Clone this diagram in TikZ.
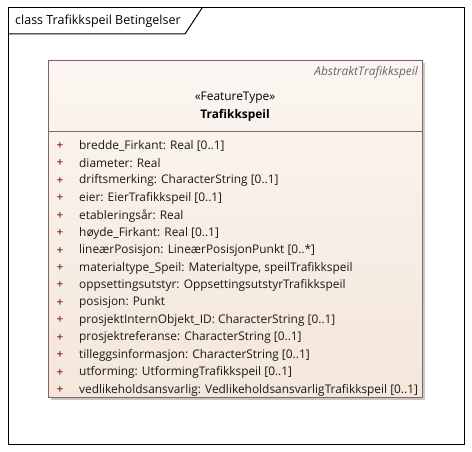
\documentclass[tikz,border=0pt]{standalone}
\usepackage{fontspec}
\setmainfont{Open Sans}
\begin{document}
\begin{tikzpicture}[x=1pt,y=-1pt,
  attr/.style={anchor=west,inner sep=0pt,font=\fontsize{11.9}{13}\selectfont,text=black!90},
  plus/.style={anchor=center,inner sep=0pt,font=\fontsize{11.9}{13}\selectfont,text=red!45!black}]
\definecolor{boxfill}{RGB}{249,240,233}
\definecolor{boxline}{RGB}{130,100,100}
\useasboundingbox (0,0) rectangle (472,452);
\fill[white] (0,0) rectangle (472,452);
% frame
\draw[line width=1pt] (8,8) rectangle (464,444);
\draw[line width=1pt] (8,34) -- (185,34) -- (202,8);
\node[anchor=west,inner sep=0pt,font=\fontsize{12.5}{14}\selectfont] (title) at (15,21) {class Trafikkspeil Betingelser};
% class box
\fill[black!22] (51,63) rectangle (425,400);
\shade[top color=boxfill!60!white,bottom color=boxfill!90!brown!95] (48,60) rectangle (422,397);
\draw[boxline,line width=0.8pt] (48,60) rectangle (422,397);
\node (cls) at (235,228) {};
\draw[boxline,line width=0.8pt] (48,131) -- (422,131);
\node[anchor=east,inner sep=0pt,font=\fontsize{11.9}{13}\selectfont\itshape,text=black!60] (abs) at (418,72) {AbstraktTrafikkspeil};
\node[inner sep=0pt,font=\fontsize{11.9}{13}\selectfont] (st) at (235,98) {«FeatureType»};
\node[inner sep=0pt,font=\fontsize{11.9}{13}\selectfont\bfseries] (nm) at (235,115) {Trafikkspeil};
\foreach \i/\t in {0/{bredde\_Firkant: Real [0..1]},
1/{diameter: Real},
2/{driftsmerking: CharacterString [0..1]},
3/{eier: EierTrafikkspeil [0..1]},
4/{etableringsår: Real},
5/{høyde\_Firkant: Real [0..1]},
6/{lineærPosisjon: LineærPosisjonPunkt [0..*]},
7/{materialtype\_Speil: Materialtype, speilTrafikkspeil},
8/{oppsettingsutstyr: OppsettingsutstyrTrafikkspeil},
9/{posisjon: Punkt},
10/{prosjektInternObjekt\_ID: CharacterString [0..1]},
11/{prosjektreferanse: CharacterString [0..1]},
12/{tilleggsinformasjon: CharacterString [0..1]},
13/{utforming: UtformingTrafikkspeil [0..1]},
14/{vedlikeholdsansvarlig: VedlikeholdsansvarligTrafikkspeil [0..1]}} {
  \node[plus] (p\i) at (60,146+17.43*\i) {+};
  \node[attr] (a\i) at (79,146+17.43*\i) {\t};
}
\end{tikzpicture}
\end{document}
